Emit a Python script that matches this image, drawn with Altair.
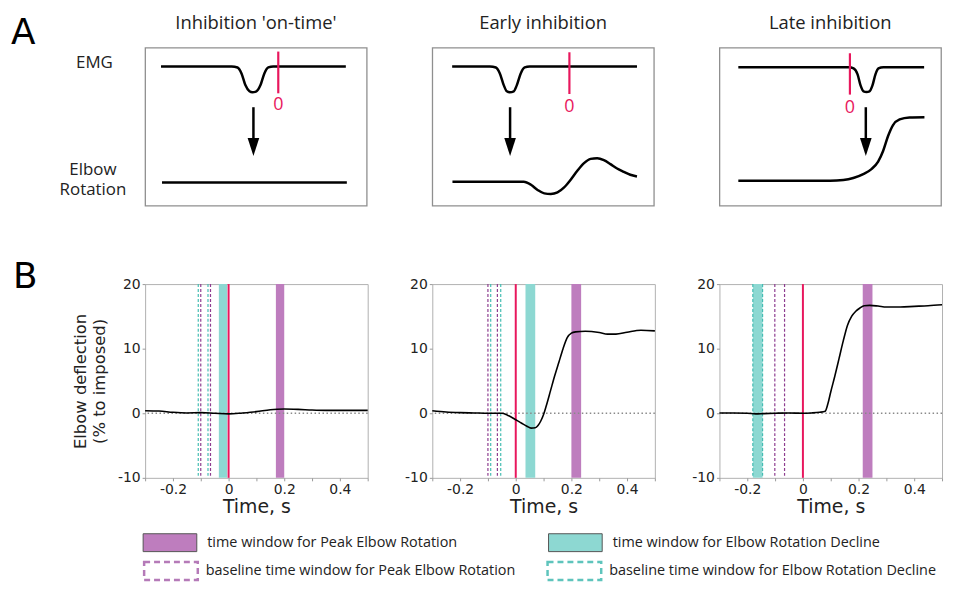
import altair as alt
import pandas as pd

# ---------------- Panel A : schematic traces (schematic units, y grows downward) ----------------
titles_A = ["Inhibition 'on-time'", "Early inhibition", "Late inhibition"]

emg_x = [
    [16, 87, 93, 97, 101, 105, 108, 112, 116, 120, 124, 129, 202],
    [20, 58, 64, 68, 72, 75, 78, 82, 85, 89, 93, 98, 206],
    [19, 130, 135, 139, 142, 145, 148, 151, 154, 157, 160, 165, 206],
]
emg_y = [
    [19, 19, 20, 26, 38, 44, 45, 44, 38, 26, 20, 19, 19],
    [19, 19, 20, 26, 38, 44, 45, 44, 38, 26, 20, 19, 19],
    [19.7, 19.7, 21, 27, 38, 44, 44.7, 44, 38, 27, 21, 19.7, 19.7],
]
elbow_x = [
    [17, 203],
    [20.3, 92, 99.3, 106, 112.7, 119.3, 126, 132.7, 139.3, 146, 152.7, 159.3, 166,
     172.7, 179.3, 186, 192.7, 199.3, 206],
    [19, 111.3, 124.7, 134.7, 144.7, 153, 159.7, 164.7, 169.7, 174.7, 181.3, 191.3, 206.3],
]
elbow_y = [
    [135.7, 135.7],
    [135, 135, 138, 143.3, 146.7, 147.3, 145.7, 140.7, 133, 124, 116.3, 112, 111.3,
     113.3, 117.3, 121.7, 125, 128, 129.7],
    [134, 134, 133.3, 131.3, 127.3, 122.3, 114.7, 104, 89, 78, 72.3, 70.3, 70],
]
# stimulation marker ("0") and arrow, in schematic units
zero_x = [134, 138, 131.3]
zero_top = [4, 4.7, 5.7]
zero_bottom = [46, 46.7, 47.3]
zero_label_y = [58, 59.7, 60.7]
arrow_x = [109, 78.3, 147.3]
arrow_top = [60, 60, 60]
arrow_shaft_end = [96, 96, 96]
arrow_head_y = [100, 100, 100]

# ---------------- Panel B : recorded elbow deflection ----------------
t_series = [
    [-0.3, -0.25, -0.2, -0.15, -0.1, -0.05, 0, 0.05, 0.1, 0.15, 0.2, 0.25, 0.3, 0.35, 0.4, 0.45, 0.5],
    [-0.3, -0.25, -0.2, -0.15, -0.1, -0.07, -0.05, -0.03, 0, 0.02, 0.04, 0.055, 0.07, 0.08, 0.09,
     0.1, 0.11, 0.125, 0.14, 0.155, 0.17, 0.185, 0.2, 0.215, 0.25, 0.3, 0.33, 0.36, 0.4, 0.45, 0.5],
    [-0.3, -0.25, -0.2, -0.17, -0.14, -0.1, -0.05, 0, 0.03, 0.06, 0.08, 0.09, 0.1, 0.115, 0.13,
     0.145, 0.16, 0.175, 0.19, 0.205, 0.22, 0.24, 0.27, 0.3, 0.35, 0.4, 0.45, 0.5],
]
v_series = [
    [0.4, 0.35, 0.15, 0.05, 0.1, 0.0, -0.1, 0.05, 0.25, 0.55, 0.65, 0.6, 0.5, 0.45, 0.45, 0.45, 0.45],
    [0.4, 0.2, 0.1, 0.05, 0.0, 0.0, 0.0, -0.3, -1.0, -1.5, -2.0, -2.3, -2.25, -1.9, -1.2,
     -0.2, 1.2, 3.5, 5.8, 7.9, 10.0, 11.7, 12.4, 12.6, 12.7, 12.5, 12.25, 12.25, 12.55, 12.85, 12.75],
    [0.05, 0.05, 0.0, -0.1, -0.05, 0.0, 0.05, 0.0, 0.05, 0.15, 0.3, 1.5, 3.3, 5.8, 8.5,
     11.2, 13.6, 15.0, 15.8, 16.3, 16.65, 16.7, 16.6, 16.45, 16.45, 16.55, 16.65, 16.8],
]
peak_win = [(0.17, 0.2), (0.2, 0.235), (0.215, 0.25)]
decline_win = [(-0.035, -0.005), (0.035, 0.07), (-0.18, -0.145)]
peak_base = [(-0.1, -0.065), (-0.1, -0.066), (-0.101, -0.066)]
decline_base = [(-0.109, -0.074), (-0.09, -0.054), (-0.18, -0.145)]
stim_time = [0]

x_ticks = [-0.3, -0.2, -0.1, 0, 0.1, 0.2, 0.3, 0.4, 0.5]
y_ticks = [-10, -5, 0, 5, 10, 15, 20]
y_title = ["Elbow deflection", "(% to imposed)"]

# legend entries
window_labels = ["time window for Peak Elbow Rotation", "time window for Elbow Rotation Decline"]
baseline_labels = ["baseline time window for Peak Elbow Rotation",
                   "baseline time window for Elbow Rotation Decline"]

# ---------------- styles ----------------
PURPLE = "#BE7DBE"
TEAL = "#8DD8D2"
PURPLE_DASH = "#8E3D90"
TEAL_DASH = "#45BDB3"
RED = "#E8175D"
TXT = "#222222"
SANS = "Open Sans"
MPL = "DejaVu Sans"

window_fills = [PURPLE, TEAL]
baseline_strokes = ["#B57AB8", "#5EC4BC"]


def schematic(i):
    xs = alt.Scale(domain=[0, 223], nice=False, zero=False)
    ys = alt.Scale(domain=[0, 159], nice=False, zero=False, reverse=True)

    def X(f):
        return alt.X(f, type="quantitative", scale=xs, axis=None)

    def Y(f):
        return alt.Y(f, type="quantitative", scale=ys, axis=None)

    tr = pd.DataFrame({
        "x": emg_x[i] + elbow_x[i],
        "y": emg_y[i] + elbow_y[i],
        "trace": ["EMG"] * len(emg_x[i]) + ["Elbow"] * len(elbow_x[i]),
        "idx": list(range(len(emg_x[i]))) + list(range(len(elbow_x[i]))),
    })
    lines = alt.Chart(tr).mark_line(interpolate="monotone", color="black", strokeWidth=2.5).encode(
        x=X("x"), y=Y("y"), detail="trace:N", order="idx:Q")

    mk = pd.DataFrame({"zx": [zero_x[i]], "zt": [zero_top[i]], "zb": [zero_bottom[i]],
                       "zl": [zero_label_y[i]], "ax": [arrow_x[i]], "at": [arrow_top[i]],
                       "ae": [arrow_shaft_end[i]], "ah": [arrow_head_y[i]], "lab": ["0"]})
    red = alt.Chart(mk).mark_rule(color=RED, strokeWidth=2.2).encode(x=X("zx"), y=Y("zt"), y2="zb:Q")
    zero_lab = alt.Chart(mk).mark_text(color=RED, font=SANS, fontSize=18, baseline="middle").encode(
        x=X("zx"), y=Y("zl"), text="lab:N")
    shaft = alt.Chart(mk).mark_rule(color="black", strokeWidth=2.5).encode(x=X("ax"), y=Y("at"), y2="ae:Q")
    head = alt.Chart(mk).mark_point(shape="M-0.65,-1L0.65,-1L0,1Z", size=324, filled=True,
                                    color="black", opacity=1).encode(x=X("ax"), y=Y("ah"))
    ttl = alt.Chart(pd.DataFrame({"s": [titles_A[i]]})).mark_text(
        font=SANS, fontSize=18.5, color=TXT, align="center", baseline="middle").encode(
        x=alt.value(111.5), y=alt.value(-24.5), text="s:N")
    layers = [lines, red, zero_lab, shaft, head, ttl]
    if i == 0:
        side = pd.DataFrame({"s": ["A"]})
        layers.append(alt.Chart(side).mark_text(font=MPL, fontSize=36, align="left",
                                                baseline="alphabetic", color="black").encode(
            x=alt.value(-135), y=alt.value(-3.5), text="s:N"))
        emg_lab = pd.DataFrame({"s": ["EMG"]})
        layers.append(alt.Chart(emg_lab).mark_text(font=SANS, fontSize=17, color=TXT,
                                                   baseline="middle").encode(
            x=alt.value(-51), y=alt.value(16), text="s:N"))
        elb_lab = pd.DataFrame({"s": ["Elbow\nRotation"]})
        layers.append(alt.Chart(elb_lab).mark_text(font=SANS, fontSize=17, color=TXT, lineBreak="\n",
                                                   lineHeight=20, baseline="middle").encode(
            x=alt.value(-52.5), y=alt.value(123), text="s:N"))
    return alt.layer(*layers).properties(
        width=223, height=159,
        view=alt.ViewBackground(stroke="#8f8f8f", strokeWidth=1.3),
    )


x_label_expr = ("abs(datum.value + 0.2) < 1e-6 ? '-0.2' : abs(datum.value) < 1e-6 ? '0' : "
                "abs(datum.value - 0.2) < 1e-6 ? '0.2' : abs(datum.value - 0.4) < 1e-6 ? '0.4' : ''")
y_label_expr = "datum.value < 0 ? '-' + abs(datum.value) : '' + datum.value"

LEG_COMMON = dict(title=None, orient="none", legendX=-2.5, columns=2,
                  symbolType="M-1,-1H5V1H-1Z", symbolSize=324,
                  labelFont=SANS, labelFontSize=14.5, labelColor=TXT, labelLimit=600,
                  padding=0)


def data_panel(i):
    xs = alt.Scale(domain=[-0.3, 0.5], nice=False, zero=False)
    ys = alt.Scale(domain=[-10, 20], nice=False, zero=False)
    xaxis = alt.Axis(title="Time, s", values=x_ticks, labelExpr=x_label_expr, grid=False, domain=False,
                     tickSize=3, tickColor="#999999", labelFont=MPL, labelFontSize=14, labelColor=TXT,
                     labelPadding=2, titleFont=MPL, titleFontSize=19, titleFontWeight="normal",
                     titleColor=TXT, titlePadding=1, labelFlush=False, labelOverlap=False)
    yaxis = alt.Axis(title=y_title if i == 0 else None, values=y_ticks, labelExpr=y_label_expr,
                     grid=False, domain=False, tickSize=3, tickColor="#999999", labelFont=MPL,
                     labelFontSize=14, labelColor=TXT, labelPadding=2, titleFont=MPL,
                     titleFontSize=16.5, titleFontWeight="normal", titleColor=TXT, titlePadding=10,
                     titleLineHeight=19, labelFlush=False)

    def X(f):
        return alt.X(f, type="quantitative", scale=xs, axis=xaxis)

    def Y(f):
        return alt.Y(f, type="quantitative", scale=ys, axis=yaxis)

    pk = alt.Chart(pd.DataFrame({"s": [peak_win[i][0]], "e": [peak_win[i][1]]})).mark_rect(
        color=PURPLE).encode(x=X("s"), x2="e:Q", y=alt.datum(-10), y2=alt.datum(20))
    dc = alt.Chart(pd.DataFrame({"s": [decline_win[i][0]], "e": [decline_win[i][1]]})).mark_rect(
        color=TEAL).encode(x=X("s"), x2="e:Q", y=alt.datum(-10), y2=alt.datum(20))
    pb = alt.Chart(pd.DataFrame({"t": list(peak_base[i])})).mark_rule(
        color=PURPLE_DASH, strokeDash=[3, 2], strokeWidth=1.2).encode(x=X("t"))
    db = alt.Chart(pd.DataFrame({"t": list(decline_base[i])})).mark_rule(
        color=TEAL_DASH, strokeDash=[3, 2], strokeWidth=1.2).encode(x=X("t"))
    zero = alt.Chart(pd.DataFrame({"v": [0]})).mark_rule(
        color="#8a8a8a", strokeDash=[1.5, 2.5], strokeWidth=1.3).encode(y=Y("v"))
    stim = alt.Chart(pd.DataFrame({"t": stim_time})).mark_rule(color=RED, strokeWidth=2).encode(x=X("t"))
    curve = alt.Chart(pd.DataFrame({"t": t_series[i], "v": v_series[i]})).mark_line(
        color="black", strokeWidth=1.6, interpolate="monotone").encode(x=X("t"), y=Y("v"))
    layers = [pk, dc, zero, pb, db, stim, curve]
    if i == 0:
        layers.append(alt.Chart(pd.DataFrame({"s": ["B"]})).mark_text(
            font=MPL, fontSize=36, align="left", baseline="alphabetic", color="black").encode(
            x=alt.value(-133), y=alt.value(4), text="s:N"))
    if i == 2:
        # hidden host marks for the two legend rows: outside the plotted domain and clipped away
        leg_fill = alt.Legend(legendY=488.5, columnPadding=89, symbolStrokeWidth=1, labelOffset=46,
                              symbolStrokeColor="#555555", **LEG_COMMON)
        leg_base = alt.Legend(legendY=516, columnPadding=26, symbolStrokeWidth=2.5, labelOffset=42.5,
                              symbolDash=[6, 4], symbolFillColor="#ffffff", **LEG_COMMON)
        lw = pd.DataFrame({"label": window_labels, "lx": [0.9] * 2, "lx2": [1.0] * 2,
                           "ly": [30] * 2, "ly2": [31] * 2})
        lb = pd.DataFrame({"blabel": baseline_labels, "lx": [0.9] * 2, "lx2": [1.0] * 2,
                           "ly": [30] * 2, "ly2": [31] * 2})
        layers.append(alt.Chart(lw).mark_rect(clip=True, stroke="#555555", strokeWidth=1).encode(
            x=X("lx"), x2="lx2:Q", y=Y("ly"), y2="ly2:Q",
            fill=alt.Fill("label:N", scale=alt.Scale(domain=window_labels, range=window_fills),
                          legend=leg_fill),
        ))
        layers.append(alt.Chart(lb).mark_rect(clip=True, fill="#ffffff", strokeWidth=2.5).encode(
            x=X("lx"), x2="lx2:Q", y=Y("ly"), y2="ly2:Q",
            stroke=alt.Stroke("blabel:N", scale=alt.Scale(domain=baseline_labels, range=baseline_strokes),
                              legend=leg_base),
        ))
    return alt.layer(*layers).properties(
        width=224, height=195,
        view=alt.ViewBackground(stroke="#b0b0b0", strokeWidth=1),
    )


panels = [schematic(i) for i in range(3)] + [data_panel(i) for i in range(3)]
chart = alt.concat(*panels, columns=3, spacing={"row": 79, "column": 65}, bounds="flush").properties(
    padding={"left": 2, "top": 3, "right": 0, "bottom": 0}
).configure(background="white")

chart.save("out.html", embed_options={"renderer": "svg", "actions": False})
